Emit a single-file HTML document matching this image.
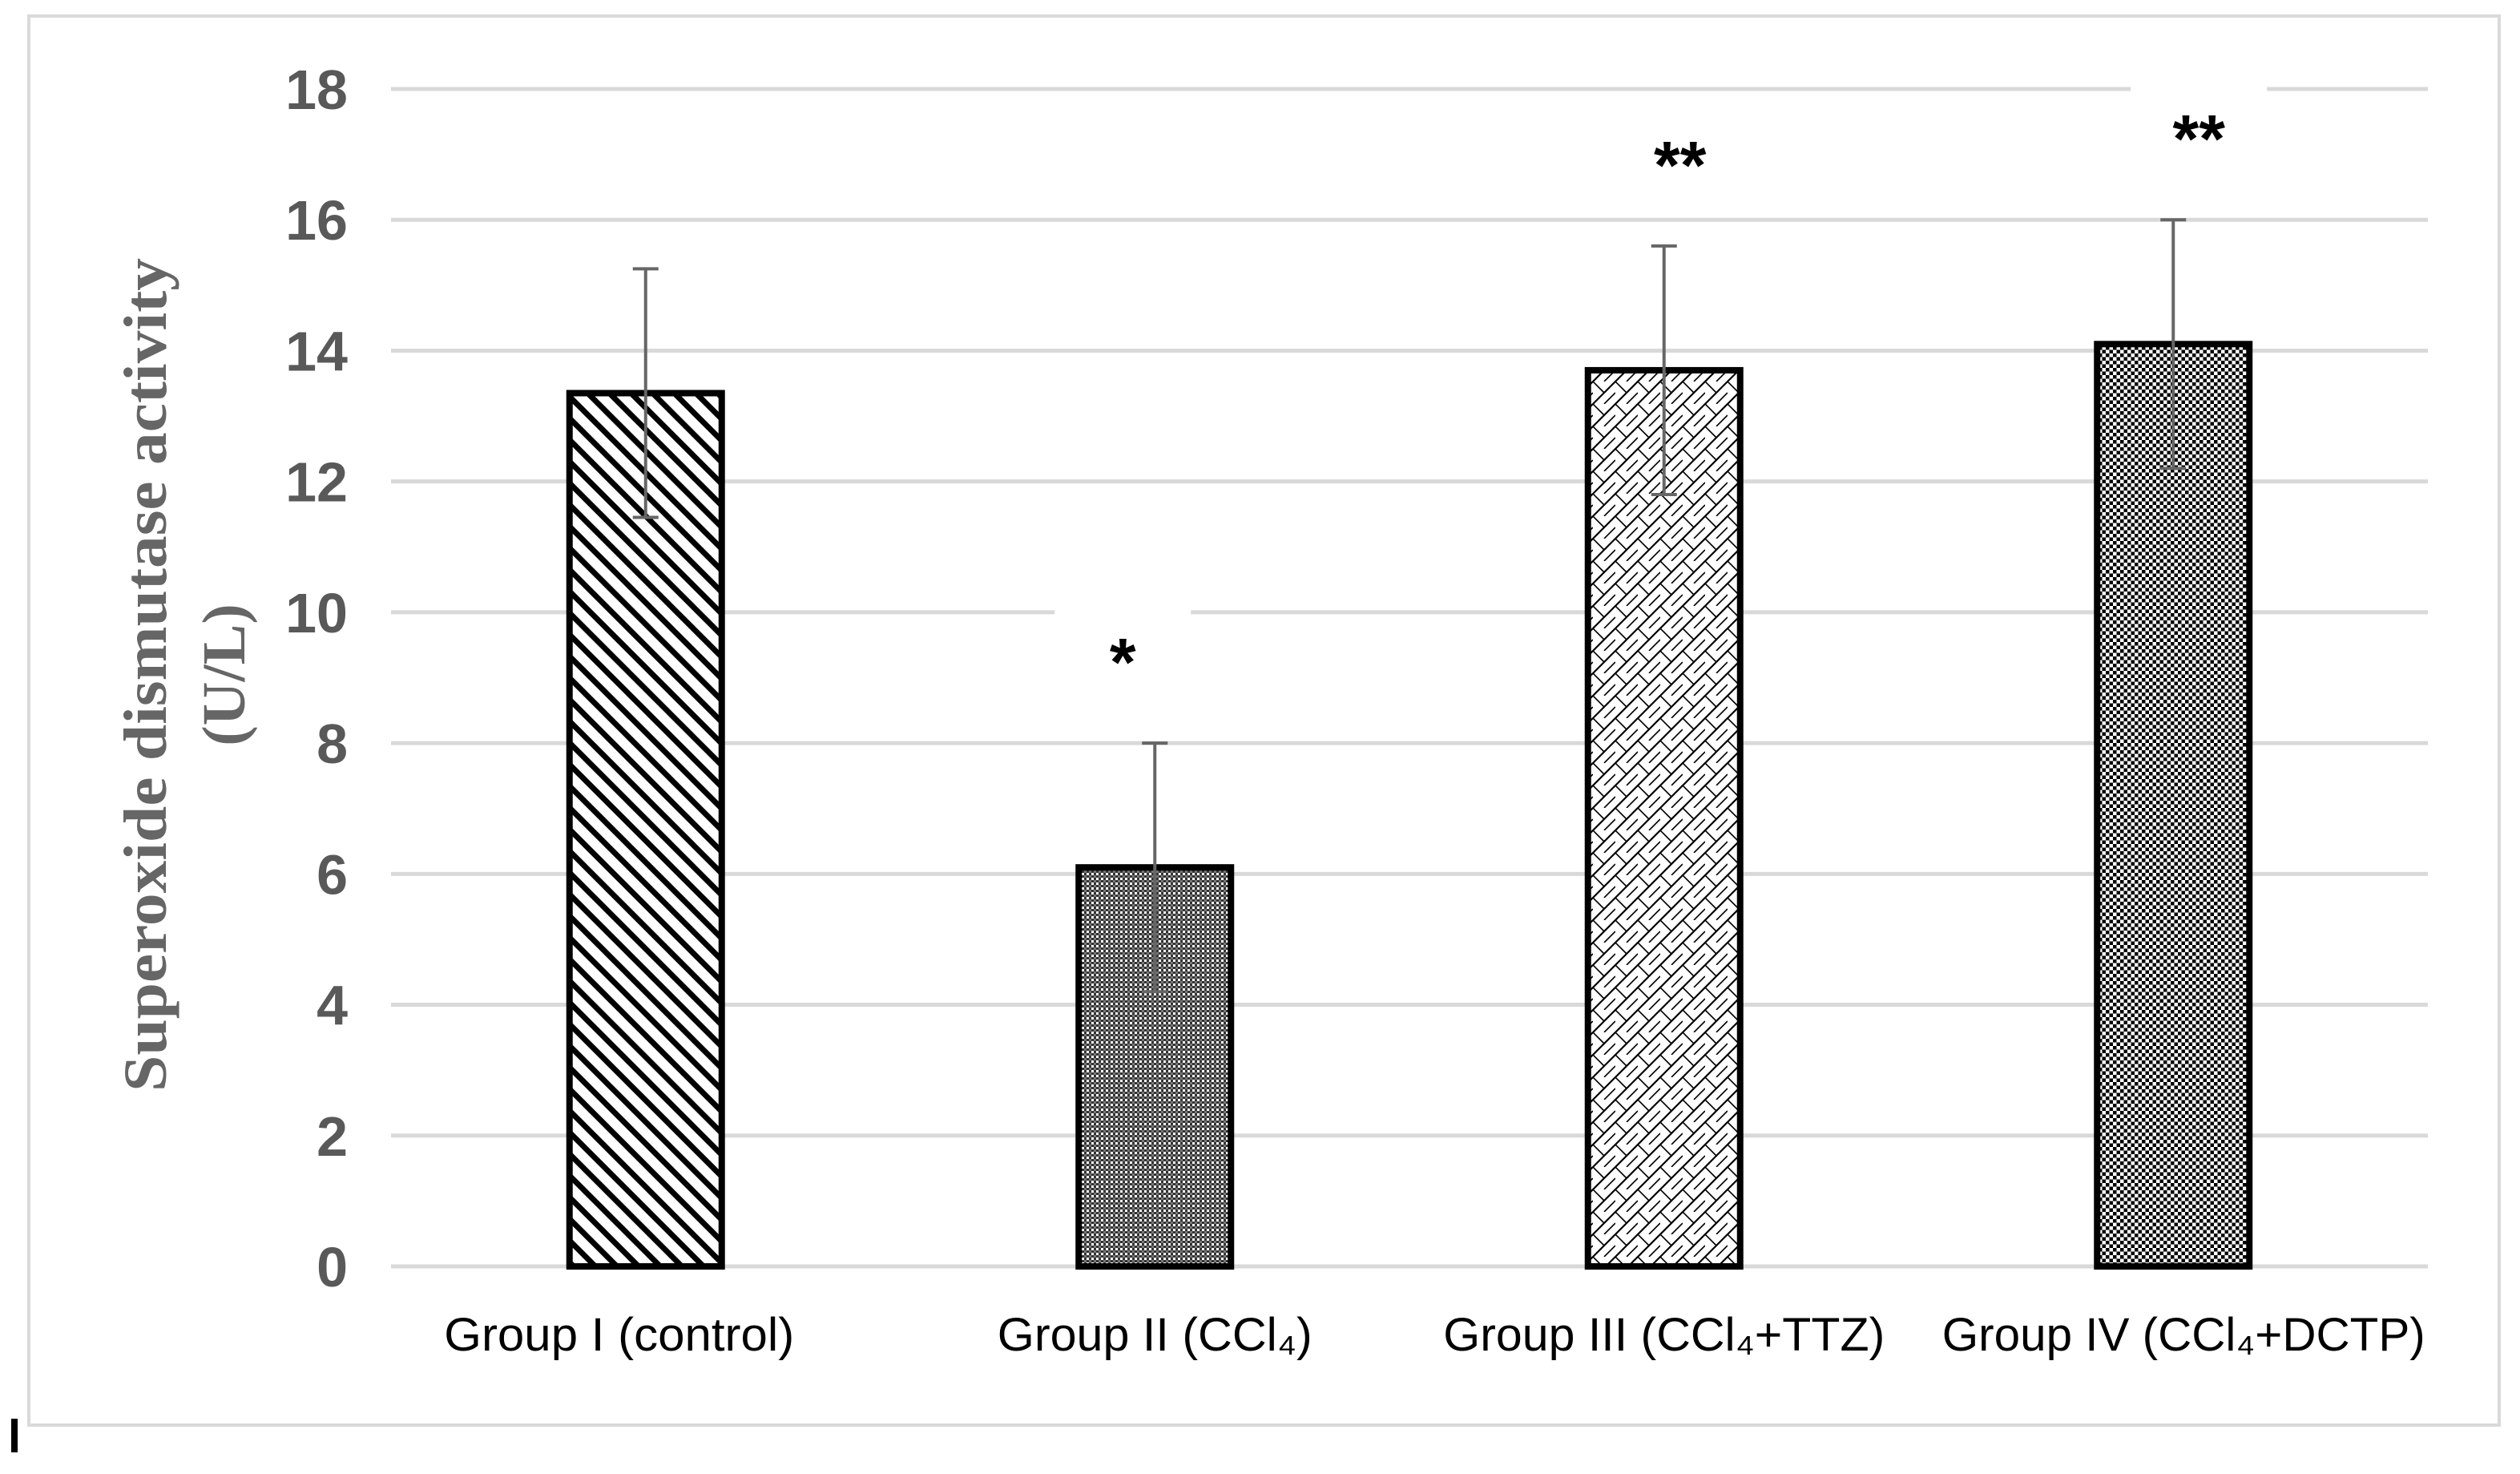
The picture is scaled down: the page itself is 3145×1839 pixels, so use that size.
<!DOCTYPE html>
<html><head><meta charset="utf-8"><style>
html,body{margin:0;padding:0;background:#fff;}
svg{display:block;}
</style></head><body>
<svg id="chart" width="3145" height="1839" viewBox="0 0 3145 1839" xmlns="http://www.w3.org/2000/svg">
<defs>
<pattern id="p0" patternUnits="userSpaceOnUse" width="27" height="27">
<rect width="27" height="27" fill="#fff"/>
<path d="M-7,-7 L34,34 M-7,20 L7,34 M20,-7 L34,7" stroke="#000" stroke-width="7"/>
</pattern>
<pattern id="p1" patternUnits="userSpaceOnUse" width="6" height="6">
<rect width="6" height="6" fill="#fff"/>
<rect width="3" height="3" fill="#333"/><rect x="3" y="3" width="3" height="3" fill="#333"/>
<rect x="3" width="3" height="3" fill="#777"/>
</pattern>
<pattern id="p2" patternUnits="userSpaceOnUse" width="28" height="28">
<rect width="28" height="28" fill="#fff"/>
<path d="M0,28 L28,0 M-7,7 L7,-7 M21,35 L35,21" stroke="#000" stroke-width="2.2"/>
<path d="M0,0 L14,14 M14,28 L28,14" stroke="#000" stroke-width="1.6"/>
</pattern>
<pattern id="p3" patternUnits="userSpaceOnUse" width="9" height="9">
<rect width="9" height="9" fill="#fff"/>
<rect width="4.5" height="4.5" fill="#000"/><rect x="4.5" y="4.5" width="4.5" height="4.5" fill="#000"/>
</pattern>
</defs>
<rect x="36" y="20" width="3083" height="1758" fill="#fff" stroke="#d9d9d9" stroke-width="4"/>
<rect x="14" y="1770" width="8" height="42" fill="#000"/>
<g id="grid"></g>
<g id="ylabels"></g>
<g id="bars"></g>
<g id="xlabels"></g>
<text transform="translate(207,842) rotate(-90)" text-anchor="middle" font-family="Liberation Serif, serif" font-weight="bold" font-size="76" fill="#666" textLength="1040" lengthAdjust="spacingAndGlyphs">Superoxide dismutase activity</text>
<text transform="translate(305,842) rotate(-90)" text-anchor="middle" font-family="Liberation Serif, serif" font-weight="bold" font-size="76" fill="#666">(U/L)</text>
</svg>
<script>
const categories = ["Group I (control)", "Group II (CCl\u2084)", "Group III (CCl\u2084+TTZ)", "Group IV (CCl\u2084+DCTP)"];
const values = [13.35, 6.1, 13.7, 14.1];
const errors = [1.9, 1.9, 1.9, 1.9];
const stars = ["", "*", "**", "**"];
const yTicks = [0, 2, 4, 6, 8, 10, 12, 14, 16, 18];

const NS = "http://www.w3.org/2000/svg";
const X0 = 488, X1 = 3030, Y0 = 1580, Y18 = 111;
const yScale = v => Y0 - (v / 18) * (Y0 - Y18);
const band = (X1 - X0) / categories.length;
const xCenter = i => X0 + band * (i + 0.5);
const BW = 190;
const patterns = ["url(#p0)", "url(#p1)", "url(#p2)", "url(#p3)"];
const labelWidths = [437, 393, 551, 603];
const labelShift = [-33, 0, 0, 13];
const starShift = [0, -40, 20, 32];
function mk(tag, attrs, parent) {
  const e = document.createElementNS(NS, tag);
  for (const k in attrs) e.setAttribute(k, attrs[k]);
  parent.appendChild(e);
  return e;
}
const grid = document.getElementById('grid');
const yl = document.getElementById('ylabels');
yTicks.forEach(t => {
  const y = yScale(t);
  const l = mk('line', {x1: X0, x2: X1, y1: y, y2: y, stroke: '#d9d9d9', 'stroke-width': 5}, grid);
  
  
  const tx = mk('text', {x: 434, y: y + 25, 'text-anchor': 'end', 'font-family': 'Liberation Sans, sans-serif', 'font-weight': 'bold', 'font-size': 70, fill: '#595959'}, yl);
  tx.textContent = t;
  
  
});
const bars = document.getElementById('bars');
const xl = document.getElementById('xlabels');
categories.forEach((c, i) => {
  const cx = xCenter(i);
  const top = yScale(values[i]);
  const r = mk('rect', {x: cx - BW / 2, y: top, width: BW, height: Y0 - top, fill: patterns[i], stroke: '#000', 'stroke-width': 8}, bars);
  
  
  const hi = yScale(values[i] + errors[i]), lo = yScale(values[i] - errors[i]);
  const eb = mk('path', {d: `M${cx},${hi} L${cx},${lo} M${cx - 16},${hi} L${cx + 16},${hi} M${cx - 16},${lo} L${cx + 16},${lo}`, stroke: '#666', 'stroke-width': 4, fill: 'none'}, bars);
  
  
  if (stars[i]) {
    const sy = hi - 110;
    const sx = cx + starShift[i];
    const bg = mk('rect', {x: sx - 85, y: sy - 60, width: 170, height: 90, fill: '#fff'}, bars);
    
    
    const s = mk('text', {x: sx, y: sy + 38, 'text-anchor': 'middle', 'font-family': 'Liberation Sans, sans-serif', 'font-weight': 'bold', 'font-size': 84, fill: '#000'}, bars);
    s.textContent = stars[i];
    
    
  }
  const t = mk('text', {x: cx + labelShift[i], y: 1685, 'text-anchor': 'middle', 'font-family': 'Liberation Sans, sans-serif', 'font-size': 58, fill: '#000', textLength: labelWidths[i], lengthAdjust: 'spacingAndGlyphs'}, xl);
  t.textContent = c;
  
  
});
</script>
</body></html>
